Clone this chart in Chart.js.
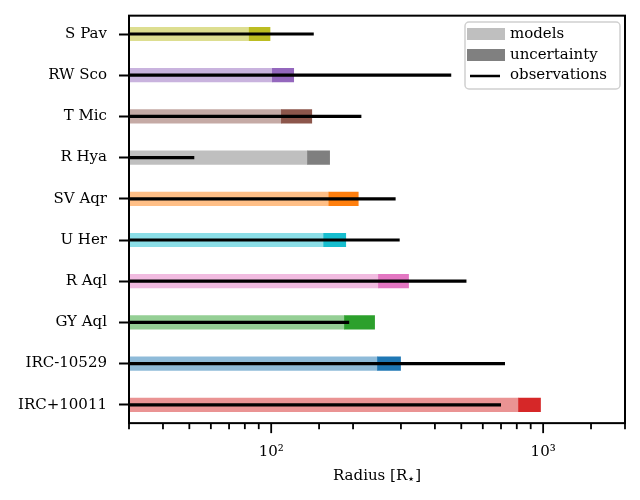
<!DOCTYPE html>
<html>
<head>
<meta charset="utf-8">
<script src="https://cdn.jsdelivr.net/npm/chart.js@4/dist/chart.umd.min.js"></script>
<style>
    html, body { margin: 0; padding: 0; background: #fff; }
    #wrap { width: 640px; height: 500px; position: relative; }
</style>
</head>
<body>
<div id="wrap"><canvas id="radiusChart"></canvas></div>
<script>
// ========================
// Data
// ========================
const stars = ['S Pav', 'RW Sco', 'T Mic', 'R Hya', 'SV Aqr', 'U Her', 'R Aql', 'GY Aql', 'IRC-10529', 'IRC+10011'];
const modelRadius = [83, 101, 109, 136, 163, 156, 248, 186, 246, 812];
const modelUpper = [99, 121, 141, 164, 209, 188, 320, 240, 299, 978];
const observedRadius = [143, 458, 214, 52, 286, 296, 521, 193, 722, 698];
const starColors = ['#bcbd22', '#9467bd', '#8c564b', '#7f7f7f', '#ff7f0e', '#17becf', '#e377c2', '#2ca02c', '#1f77b4', '#d62728'];
const xMin = 30;
const xMax = 2000;
const majorTickLabels = { 100: '10²', 1000: '10³' };

const serif = "'DejaVu Serif', serif";

function withAlpha(hex, a) {
    const n = parseInt(hex.slice(1), 16);
    return `rgba(${(n >> 16) & 255}, ${(n >> 8) & 255}, ${n & 255}, ${a})`;
}

// fixed axis sizes, no extra label padding so the plot box lands where it should
function fixSize(prop, size) {
    return scale => {
        scale[prop] = size;
        scale.paddingTop = 0;
        scale.paddingBottom = 0;
        scale.paddingLeft = 0;
        scale.paddingRight = 0;
    };
}

// Frame, x ticks, axis title and legend (matplotlib look)
const decorations = {
    id: 'decorations',
    afterDraw(chart) {
        const { ctx, chartArea: a, scales: { x, y } } = chart;
        // matplotlib leaves a bit less than half a row above the first / below the last bar
        const first = y.getPixelForValue(0);
        const last = y.getPixelForValue(stars.length - 1);
        const step = (last - first) / (stars.length - 1);
        const top = first - 0.445 * step;
        const bottom = last + 0.445 * step;

        ctx.save();
        ctx.strokeStyle = '#000';

        // x ticks: long for decades, short for the rest
        ctx.lineWidth = 1.8;
        x.ticks.forEach(t => {
            const px = x.getPixelForValue(t.value);
            const lv = Math.log10(t.value);
            const major = Math.abs(lv - Math.round(lv)) < 1e-9;
            ctx.beginPath();
            ctx.moveTo(px, bottom);
            ctx.lineTo(px, bottom + (major ? 10 : 6));
            ctx.stroke();
        });

        // box around the plot
        ctx.lineWidth = 2;
        ctx.strokeRect(a.left, top, a.right - a.left, bottom - top);

        // axis title with subscript star
        ctx.fillStyle = '#000';
        ctx.textBaseline = 'alphabetic';
        const big = `15px ${serif}`;
        const small = `13px ${serif}`;
        ctx.font = big;
        const w1 = ctx.measureText('Radius [R').width;
        const w3 = ctx.measureText(']').width;
        ctx.font = small;
        const w2 = ctx.measureText('\u22C6').width;
        let tx = (a.left + a.right) / 2 - (w1 + w2 + w3) / 2;
        const ty = 480;
        ctx.font = big;
        ctx.fillText('Radius [R', tx, ty);
        tx += w1;
        ctx.font = small;
        ctx.fillText('\u22C6', tx, ty + 3);
        tx += w2;
        ctx.font = big;
        ctx.fillText(']', tx, ty);

        // legend
        const lx = 465, ly = 22, lw = 155, lh = 67;
        ctx.beginPath();
        ctx.roundRect(lx, ly, lw, lh, 4);
        ctx.fillStyle = 'rgba(255, 255, 255, 0.8)';
        ctx.fill();
        ctx.strokeStyle = '#d0d0d0';
        ctx.lineWidth = 1.5;
        ctx.stroke();

        ctx.fillStyle = '#bfbfbf';
        ctx.fillRect(467, 28, 38, 12);
        ctx.fillStyle = '#808080';
        ctx.fillRect(467, 49, 38, 12);
        ctx.strokeStyle = '#000';
        ctx.lineWidth = 2.5;
        ctx.beginPath();
        ctx.moveTo(470, 76);
        ctx.lineTo(500, 76);
        ctx.stroke();

        ctx.fillStyle = '#000';
        ctx.font = big;
        ctx.textBaseline = 'middle';
        ctx.fillText('models', 510, 34);
        ctx.fillText('uncertainty', 510, 55);
        ctx.fillText('observations', 510, 75);

        ctx.restore();
    }
};

Chart.defaults.color = '#000';
Chart.defaults.font.family = serif;
Chart.defaults.font.size = 15;

new Chart(document.getElementById('radiusChart'), {
    type: 'bar',
    data: {
        labels: stars,
        datasets: [
            {
                label: 'observations',
                data: observedRadius.map(v => [xMin, v]),
                backgroundColor: '#000',
                barThickness: 2.5,
                grouped: false
            },
            {
                label: 'uncertainty',
                data: modelRadius.map((v, i) => [v, modelUpper[i]]),
                backgroundColor: starColors,
                barThickness: 13.5,
                grouped: false
            },
            {
                label: 'models',
                data: modelRadius.map(v => [xMin, v]),
                backgroundColor: starColors.map(c => withAlpha(c, 0.5)),
                barThickness: 13.5,
                grouped: false
            }
        ]
    },
    options: {
        indexAxis: 'y',
        responsive: true,
        maintainAspectRatio: false,
        animation: false,
        layout: { padding: { left: 0, right: 15, top: 13.4, bottom: 0 } },
        plugins: {
            legend: { display: false },
            tooltip: { enabled: false }
        },
        scales: {
            x: {
                type: 'logarithmic',
                min: xMin,
                max: xMax,
                border: { display: false },
                grid: { display: true, drawOnChartArea: false, drawTicks: false },
                ticks: {
                    autoSkip: false,
                    maxRotation: 0,
                    padding: 18,
                    font: { size: 15 },
                    callback: value => majorTickLabels[value] || ''
                },
                afterFit: fixSize('height', 74.6)
            },
            y: {
                border: { display: false },
                grid: {
                    offset: false,
                    drawOnChartArea: false,
                    tickLength: 10,
                    tickWidth: 2,
                    tickColor: '#000'
                },
                ticks: { padding: 12, font: { size: 15 } },
                afterFit: fixSize('width', 129)
            }
        }
    },
    plugins: [decorations]
});
</script>
</body>
</html>
